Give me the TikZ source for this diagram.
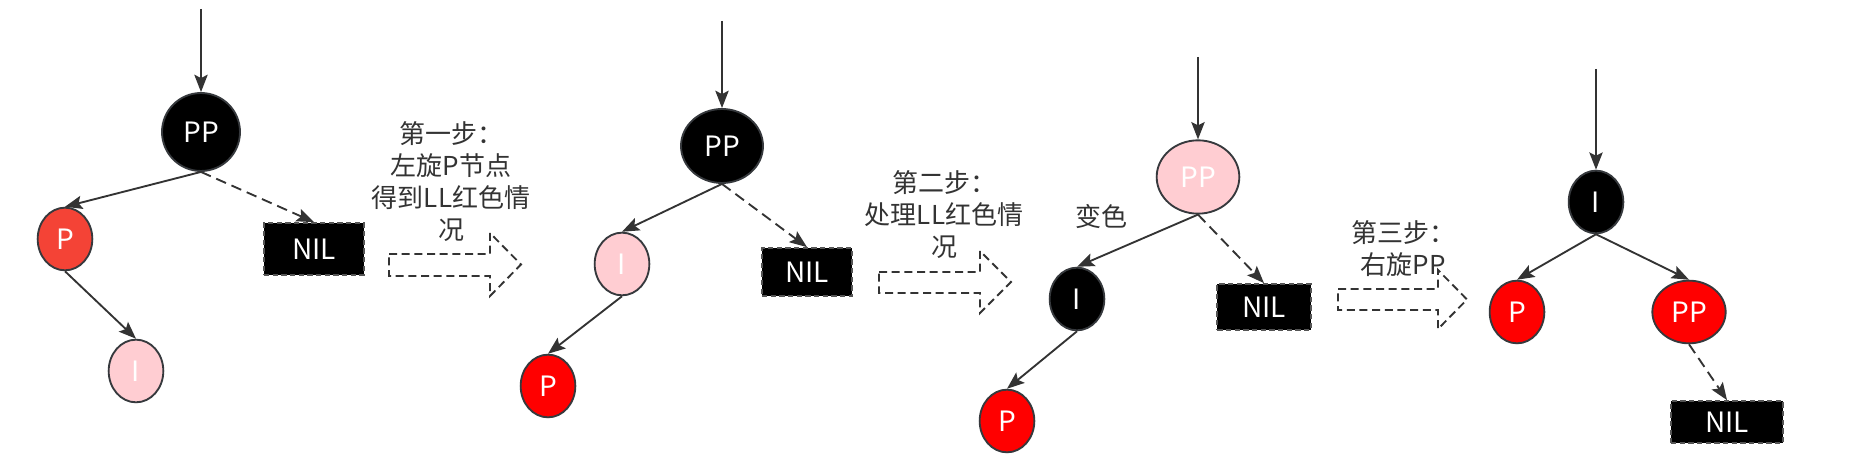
\documentclass[tikz,border=0pt]{standalone}
\usepackage{fontspec}
\setmainfont{Noto Sans CJK SC}
\usetikzlibrary{arrows.meta,shapes.geometric}
\definecolor{edgegray}{HTML}{333333}
\definecolor{bordergray}{HTML}{36393D}
\definecolor{nilgray}{HTML}{555555}
\definecolor{textgray}{HTML}{333333}
\definecolor{rbred}{HTML}{FF0000}
\definecolor{rbredA}{HTML}{F44336}
\definecolor{rbpink}{HTML}{FFCDD2}
\tikzset{
  rbnode/.style={ellipse, draw=bordergray, line width=1.4pt, text=white, inner sep=0pt,
    font=\fontsize{21}{25}\selectfont},
  blk/.style={rbnode, fill=black},
  redn/.style={rbnode, fill=rbred},
  redA/.style={rbnode, fill=rbredA},
  pinkn/.style={rbnode, fill=rbpink},
  small/.style={minimum width=41pt, minimum height=47pt},
  nilbox/.style={rectangle, fill=black, draw=nilgray, dash pattern=on 4pt off 2.5pt, line width=1.3pt,
    text=white, inner sep=0pt, font=\fontsize{21}{25}\selectfont},
  link/.style={draw=edgegray, line width=1.4pt, -{Stealth[length=13pt,width=10pt,inset=2.5pt]}},
  dlink/.style={link, dash pattern=on 8pt off 4.5pt},
  note/.style={text=textgray, align=center, inner sep=0pt, font=\fontsize{19.5}{24}\selectfont},
  blockarrow/.style={draw=edgegray, line width=1.4pt, dash pattern=on 6pt off 3.5pt, line join=miter}
}
\begin{document}
\begin{tikzpicture}[x=0.75pt,y=-0.75pt]
\useasboundingbox (0,0) rectangle (1870,459);

% ---------- tree 1 ----------
\coordinate (t1) at (201,9);
\node[blk, minimum width=58.5pt, minimum height=58.5pt] (PP1) at (201,132) {PP};
\node[redA, small] (P1) at (65,239) {P};
\node[pinkn, small] (I1) at (136,371) {I};
\node[nilbox, minimum width=75pt, minimum height=39pt] (NIL1) at (314,249) {NIL};
\draw[link] (t1) -- (PP1.north);
\draw[link] (PP1.south) -- (P1.north);
\draw[dlink] (PP1.south) -- (NIL1.north);
\draw[link] (P1.south) -- (I1.north);

\node[note] (n1) at (451,182) {第一步：\\左旋P节点\\得到LL红色情\\况};
\draw[blockarrow] (389,254) -- (490,254) -- (490,233) -- (521,264.5) -- (490,296) -- (490,276) -- (389,276) -- cycle;

% ---------- tree 2 ----------
\coordinate (t2) at (722,21);
\node[blk, minimum width=61.5pt, minimum height=55.5pt] (PP2) at (722,146) {PP};
\node[pinkn, small] (I2) at (622,264) {I};
\node[redn, small] (P2) at (548,386) {P};
\node[nilbox, minimum width=67.5pt, minimum height=36pt] (NIL2) at (807,272) {NIL};
\draw[link] (t2) -- (PP2.north);
\draw[link] (PP2.south) -- (I2.north);
\draw[dlink] (PP2.south) -- (NIL2.north);
\draw[link] (I2.south) -- (P2.north);

\node[note] (n2) at (944,215) {第二步：\\处理LL红色情\\况};
\draw[blockarrow] (879,272) -- (980,272) -- (980,251) -- (1011,282) -- (980,313) -- (980,293) -- (879,293) -- cycle;

% ---------- tree 3 ----------
\coordinate (t3) at (1198,57);
\node[pinkn, minimum width=62pt, minimum height=55pt] (PP3) at (1198,177) {PP};
\node[blk, small] (I3) at (1077,299) {I};
\node[redn, small] (P3) at (1007,421) {P};
\node[nilbox, minimum width=70pt, minimum height=34.5pt] (NIL3) at (1264,307) {NIL};
\draw[link] (t3) -- (PP3.north);
\draw[link] (PP3.south) -- (I3.north);
\draw[dlink] (PP3.south) -- (NIL3.north);
\draw[link] (I3.south) -- (P3.north);
\node[note] (bs) at (1101,217) {变色};

\node[note] (n3) at (1403,249) {第三步：\\右旋PP};
\draw[blockarrow] (1338,289) -- (1438,289) -- (1438,270) -- (1467,299.5) -- (1438,329) -- (1438,310) -- (1338,310) -- cycle;

% ---------- tree 4 ----------
\coordinate (t4) at (1596,69);
\node[blk, small] (I4) at (1596,202) {I};
\node[redn, small] (P4) at (1517,312) {P};
\node[redn, minimum width=55pt, minimum height=47pt] (PP4) at (1689,312) {PP};
\node[nilbox, minimum width=84pt, minimum height=31.5pt] (NIL4) at (1727,422) {NIL};
\draw[link] (t4) -- (I4.north);
\draw[link] (I4.south) -- (P4.north);
\draw[link] (I4.south) -- (PP4.north);
\draw[dlink] (PP4.south) -- (NIL4.north);
\end{tikzpicture}
\end{document}
